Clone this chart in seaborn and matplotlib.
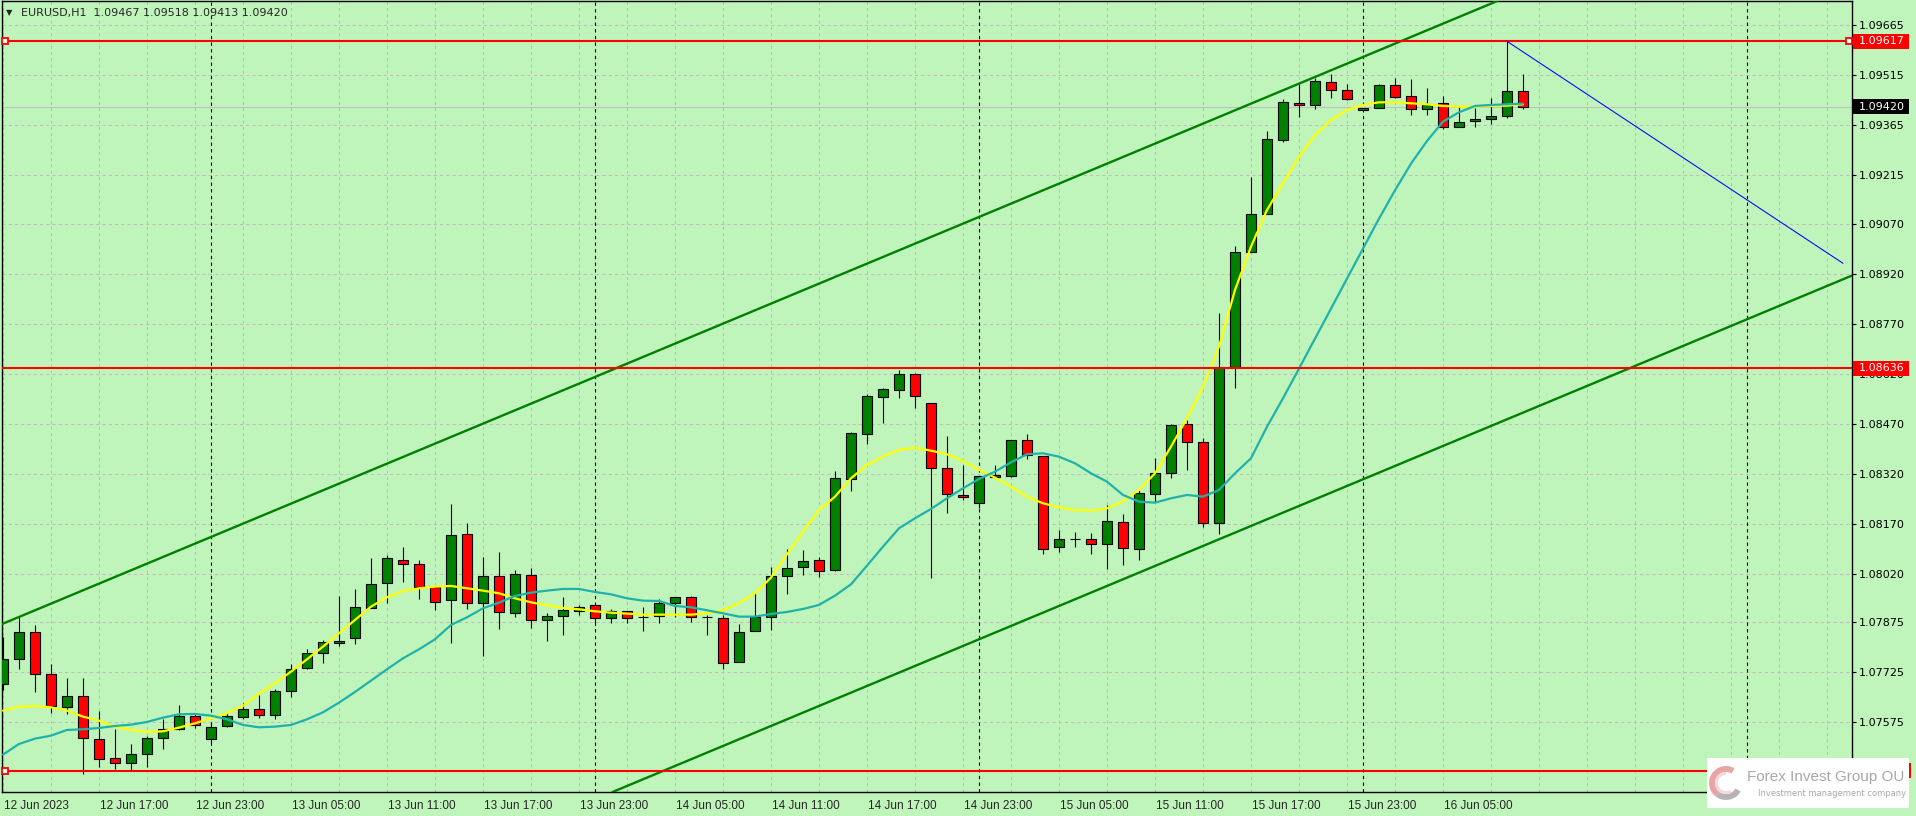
"""EURUSD H1 candlestick chart in MT4 style. Saves out.png."""
import matplotlib
matplotlib.use("Agg")
import matplotlib.pyplot as plt
import matplotlib.transforms as mtransforms
from matplotlib.patches import Rectangle, Wedge
import numpy as np
import pandas as pd
import seaborn as sns

# ---- data ----
TITLE = "EURUSD,H1  1.09467 1.09518 1.09413 1.09420"

OPEN = [1.07688, 1.07763, 1.07844, 1.07718, 1.07619, 1.07652, 1.07523, 1.07466, 1.07451, 1.07478,
        1.07526, 1.07553, 1.07592, 1.07523, 1.07562, 1.07589, 1.07613, 1.07595, 1.07667, 1.07736,
        1.07781, 1.07811, 1.07826, 1.07916, 1.07991, 1.08060, 1.08048, 1.07979, 1.07940, 1.08138,
        1.07931, 1.08012, 1.07901, 1.08015, 1.07880, 1.07892, 1.07907, 1.07925, 1.07886, 1.07907,
        1.07890, 1.07892, 1.07931, 1.07949, 1.07890, 1.07886, 1.07754, 1.07847, 1.07889, 1.08012,
        1.08039, 1.08060, 1.08030, 1.08303, 1.08438, 1.08549, 1.08570, 1.08618, 1.08531, 1.08336,
        1.08255, 1.08231, 1.08309, 1.08312, 1.08420, 1.08372, 1.08099, 1.08125, 1.08125, 1.08108,
        1.08174, 1.08095, 1.08258, 1.08321, 1.08468, 1.08414, 1.08171, 1.08639, 1.08984, 1.09098,
        1.09320, 1.09431, 1.09425, 1.09494, 1.09470, 1.09410, 1.09416, 1.09485, 1.09452, 1.09413,
        1.09431, 1.09359, 1.09377, 1.09383, 1.09392, 1.09467]
HIGH = [1.07829, 1.07891, 1.07866, 1.07749, 1.07706, 1.07706, 1.07608, 1.07554, 1.07509, 1.07534,
        1.07583, 1.07625, 1.07601, 1.07574, 1.07605, 1.07631, 1.07656, 1.07673, 1.07748, 1.07793,
        1.07821, 1.07953, 1.07973, 1.08066, 1.08075, 1.08099, 1.08060, 1.07979, 1.08228, 1.08171,
        1.08069, 1.08084, 1.08031, 1.08037, 1.07901, 1.07949, 1.07925, 1.07925, 1.07913, 1.07907,
        1.07919, 1.07943, 1.07949, 1.07952, 1.07895, 1.07895, 1.07868, 1.07961, 1.08039, 1.08094,
        1.08091, 1.08069, 1.08328, 1.08444, 1.08558, 1.08576, 1.08632, 1.08621, 1.08531, 1.08432,
        1.08345, 1.08312, 1.08345, 1.08420, 1.08438, 1.08372, 1.08151, 1.08146, 1.08141, 1.08226,
        1.08199, 1.08271, 1.08366, 1.08468, 1.08481, 1.08426, 1.08801, 1.09003, 1.09211, 1.09348,
        1.09444, 1.09488, 1.09506, 1.09518, 1.09488, 1.09416, 1.09488, 1.09506, 1.09503, 1.09476,
        1.09452, 1.09419, 1.09416, 1.09446, 1.09617, 1.09518]
LOW = [1.07671, 1.07734, 1.07666, 1.07603, 1.07598, 1.07420, 1.07441, 1.07435, 1.07432, 1.07441,
       1.07495, 1.07551, 1.07556, 1.07513, 1.07559, 1.07583, 1.07586, 1.07585, 1.07651, 1.07733,
       1.07751, 1.07804, 1.07808, 1.07916, 1.07931, 1.07996, 1.07943, 1.07910, 1.07811, 1.07913,
       1.07772, 1.07853, 1.07891, 1.07858, 1.07819, 1.07837, 1.07895, 1.07871, 1.07873, 1.07873,
       1.07849, 1.07873, 1.07889, 1.07876, 1.07837, 1.07733, 1.07754, 1.07847, 1.07851, 1.07958,
       1.08015, 1.08009, 1.08027, 1.08267, 1.08408, 1.08473, 1.08546, 1.08516, 1.08006, 1.08201,
       1.08240, 1.08216, 1.08309, 1.08309, 1.08363, 1.08080, 1.08085, 1.08099, 1.08080, 1.08035,
       1.08045, 1.08060, 1.08236, 1.08306, 1.08331, 1.08160, 1.08138, 1.08578, 1.08984, 1.09098,
       1.09314, 1.09389, 1.09413, 1.09446, 1.09440, 1.09410, 1.09416, 1.09446, 1.09395, 1.09395,
       1.09353, 1.09359, 1.09361, 1.09370, 1.09386, 1.09413]
CLOSE = [1.07763, 1.07844, 1.07718, 1.07622, 1.07652, 1.07526, 1.07463, 1.07451, 1.07478, 1.07526,
         1.07553, 1.07592, 1.07565, 1.07559, 1.07592, 1.07613, 1.07595, 1.07667, 1.07733, 1.07781,
         1.07814, 1.07817, 1.07919, 1.07988, 1.08066, 1.08048, 1.07979, 1.07934, 1.08135, 1.07931,
         1.08012, 1.07904, 1.08018, 1.07880, 1.07892, 1.07910, 1.07919, 1.07886, 1.07907, 1.07886,
         1.07890, 1.07931, 1.07949, 1.07889, 1.07890, 1.07751, 1.07844, 1.07889, 1.08012, 1.08036,
         1.08057, 1.08027, 1.08306, 1.08441, 1.08552, 1.08573, 1.08618, 1.08552, 1.08336, 1.08258,
         1.08249, 1.08312, 1.08315, 1.08420, 1.08376, 1.08095, 1.08125, 1.08125, 1.08108, 1.08177,
         1.08096, 1.08261, 1.08321, 1.08465, 1.08414, 1.08171, 1.08639, 1.08984, 1.09098, 1.09323,
         1.09434, 1.09425, 1.09497, 1.09470, 1.09443, 1.09416, 1.09485, 1.09449, 1.09413, 1.09428,
         1.09359, 1.09374, 1.09383, 1.09392, 1.09467, 1.09420]

# yellow (fast) and teal (slow) moving averages
MA_FAST = [1.07609, 1.07621, 1.07623, 1.07619, 1.07609, 1.07591, 1.07579, 1.07561, 1.07551, 1.07545,
           1.07547, 1.07558, 1.07571, 1.07586, 1.07601, 1.07623, 1.07660, 1.07691, 1.07726, 1.07763,
           1.07801, 1.07841, 1.07881, 1.07921, 1.07949, 1.07968, 1.07976, 1.07981, 1.07983, 1.07976,
           1.07969, 1.07961, 1.07946, 1.07934, 1.07925, 1.07917, 1.07913, 1.07907, 1.07903, 1.07900,
           1.07897, 1.07897, 1.07897, 1.07897, 1.07901, 1.07911, 1.07931, 1.07961, 1.08008, 1.08078,
           1.08146, 1.08211, 1.08251, 1.08306, 1.08346, 1.08371, 1.08391, 1.08398, 1.08389, 1.08378,
           1.08358, 1.08331, 1.08308, 1.08281, 1.08251, 1.08231, 1.08219, 1.08211, 1.08209, 1.08216,
           1.08236, 1.08271, 1.08321, 1.08401, 1.08486, 1.08581, 1.08701, 1.08871, 1.09001, 1.09111,
           1.09191, 1.09271, 1.09336, 1.09381, 1.09411, 1.09426, 1.09434, 1.09434, 1.09431, 1.09428,
           1.09423, 1.09421, 1.09421, 1.09423, 1.09424, 1.09428]
MA_SLOW = [1.07477, 1.07509, 1.07525, 1.07534, 1.07551, 1.07553, 1.07557, 1.07563, 1.07567, 1.07575,
           1.07588, 1.07598, 1.07599, 1.07594, 1.07583, 1.07566, 1.07559, 1.07561, 1.07566, 1.07583,
           1.07604, 1.07633, 1.07665, 1.07699, 1.07733, 1.07766, 1.07793, 1.07823, 1.07866, 1.07889,
           1.07916, 1.07933, 1.07953, 1.07963, 1.07969, 1.07974, 1.07974, 1.07965, 1.07958, 1.07946,
           1.07939, 1.07938, 1.07923, 1.07919, 1.07910, 1.07901, 1.07891, 1.07891, 1.07899, 1.07905,
           1.07914, 1.07926, 1.07954, 1.07988, 1.08044, 1.08101, 1.08156, 1.08186, 1.08214, 1.08246,
           1.08276, 1.08304, 1.08326, 1.08354, 1.08378, 1.08381, 1.08371, 1.08351, 1.08321, 1.08296,
           1.08256, 1.08236, 1.08233, 1.08246, 1.08256, 1.08251, 1.08271, 1.08321, 1.08366, 1.08461,
           1.08546, 1.08635, 1.08725, 1.08815, 1.08905, 1.08995, 1.09085, 1.09170, 1.09250, 1.09318,
           1.09376, 1.09404, 1.09423, 1.09426, 1.09428, 1.09430]

DATE_LABELS = ["12 Jun 2023", "12 Jun 17:00", "12 Jun 23:00", "13 Jun 05:00", "13 Jun 11:00",
               "13 Jun 17:00", "13 Jun 23:00", "14 Jun 05:00", "14 Jun 11:00", "14 Jun 17:00",
               "14 Jun 23:00", "15 Jun 05:00", "15 Jun 11:00", "15 Jun 17:00", "15 Jun 23:00",
               "16 Jun 05:00"]
DAY_STARTS = [13, 37, 61, 85, 109]          # bars at 00:00
PRICE_TICKS = [1.09665, 1.09515, 1.09365, 1.09215, 1.09070, 1.08920, 1.08770, 1.08620,
               1.08470, 1.08320, 1.08170, 1.08020, 1.07875, 1.07725, 1.07575]
LEVELS = [1.09617, 1.08636, 1.07428]        # red horizontal lines
BID = 1.09420
CHANNEL_UP = [(10, 1.08070), (80, 1.09470)]
CHANNEL_DN = [(80, 1.08203), (115, 1.08903)]
BLUE_LINE = [(94, 1.09617), (115, 1.08951)]

# ---- styling ----
W, H = 1916, 816
BG = "#bff5bb"
GRID = "#c2bcbc"
sns.set_style("white")
plt.rcParams["font.family"] = ["DejaVu Sans"]
NARROW = ["Liberation Sans", "DejaVu Sans"]

fig = plt.figure(figsize=(W / 100, H / 100), dpi=100, facecolor=BG)
ax = fig.add_axes([2 / W, 24 / H, 1850 / W, 791 / H], facecolor=BG)
ax.set_xlim(-0.0625, 115.5625)
ax.set_ylim(1.073649, 1.097379)

n = len(OPEN)
x = np.arange(n)
o, h, l, c = map(np.array, (OPEN, HIGH, LOW, CLOSE))

# grid + period separators
for p in PRICE_TICKS:
    ax.axhline(p, color=GRID, lw=0.75, ls=(0, (3, 3)), zorder=0.5)
for g in range(0, 116, 3):
    ax.axvline(g, color=GRID, lw=0.75, ls=(0, (3, 3)), zorder=0.5)
for d in DAY_STARTS:
    ax.axvline(d, color="black", lw=0.8, ls=(0, (3, 3)), zorder=0.6)
ax.axhline(BID, color="#c0c0c0", lw=0.8, zorder=0.7)

# candles
colors = np.where(c >= o, "#008000", "#ff0000")
ax.vlines(x, l, h, color="black", lw=0.8, zorder=2)
ax.bar(x, np.abs(c - o), bottom=np.minimum(o, c), width=0.62, color=colors,
       edgecolor="black", linewidth=0.8, zorder=3)

# moving averages
df = pd.DataFrame({"bar": x, "fast": MA_FAST, "slow": MA_SLOW})
sns.lineplot(data=df, x="bar", y="fast", color="#ffff00", lw=1.6, ax=ax, zorder=4)
sns.lineplot(data=df, x="bar", y="slow", color="#20b2aa", lw=1.6, ax=ax, zorder=4)

# objects
ax.axline(*CHANNEL_UP, color="#008000", lw=1.7, zorder=5)
ax.axline(*CHANNEL_DN, color="#008000", lw=1.7, zorder=5)
for lv in LEVELS:
    ax.axhline(lv, color="#ff0000", lw=1.5, zorder=5)
ax.plot(*zip(*BLUE_LINE), color="#0000ff", lw=0.75, zorder=5)
ax.plot([0.125, 0.125, 115.375], [LEVELS[0], LEVELS[2], LEVELS[0]], ls="none", marker="s",
        ms=4, mfc="white", mec="#ff0000", mew=1.3, zorder=6, clip_on=False)

# axes, ticks
ax.set_xlabel("")
ax.set_ylabel("")
for s in ax.spines.values():
    s.set_color("black")
    s.set_linewidth(1.0)
ax.yaxis.tick_right()
ax.set_yticks(PRICE_TICKS)
ax.set_yticklabels([f"{p:.5f}" for p in PRICE_TICKS])
ax.set_xticks(range(0, 6 * len(DATE_LABELS), 6))
ax.set_xticklabels([])
ax.tick_params(axis="both", direction="out", length=3, width=0.8, color="black")
ax.tick_params(axis="y", pad=2, labelsize=8, labelcolor="black")

xt = mtransforms.blended_transform_factory(ax.transData, fig.transFigure)
for i, lab in enumerate(DATE_LABELS):
    ax.text(6 * i + 0.05, 10 / H, lab, transform=xt, ha="left", va="center",
            fontsize=8.5, family=NARROW, clip_on=False)

# price labels on the right axis (the bottom one sits under the logo, only its edge shows)
yt = mtransforms.blended_transform_factory(fig.transFigure, ax.transData)
half = 7.5 / 33333
for lv, face, right, show in [(LEVELS[0], "#ff0000", 1909, True),
                              (LEVELS[1], "#ff0000", 1909, True),
                              (LEVELS[2], "#ff0000", 1911, False),
                              (BID, "black", 1909, True)]:
    ax.add_patch(Rectangle((1853 / W, lv - half), (right - 1853) / W, 2 * half,
                           transform=yt, facecolor=face, edgecolor="none",
                           clip_on=False, zorder=7))
    if show:
        ax.text(1859 / W, lv, f"{lv:.5f}", transform=yt, ha="left", va="center",
                fontsize=8, color="white", clip_on=False, zorder=8)

# title
fig.text(6 / W, 1 - 13 / H, "\u25bc", fontsize=6, va="center", ha="left")
fig.text(21 / W, 1 - 13 / H, TITLE, fontsize=8, va="center", ha="left")

# watermark logo box
lg = fig.add_axes([1707 / W, 8 / H, 202 / W, 50 / H], facecolor="white")
lg.set_xlim(0, 202)
lg.set_ylim(0, 50)
lg.set_axis_off()
lg.add_patch(Rectangle((0, 0), 202, 50, facecolor="white", edgecolor="none"))
lg.add_patch(Wedge((19, 25), 17, 60, 235, width=6, facecolor="#e6a6a6", edgecolor="none"))
lg.add_patch(Wedge((19, 25), 17, 235, 330, width=6, facecolor="#b4b4b4", edgecolor="none"))
lg.add_patch(Wedge((19, 25), 11, 90, 300, width=3, facecolor="#f2dada", edgecolor="none"))
lg.text(40, 31, "Forex Invest Group OU", fontsize=11, color="#a8a8a8",
        ha="left", va="center", family=NARROW)
lg.text(199, 15, "Investment management company", fontsize=6, color="#a8a8a8",
        ha="right", va="center")

fig.savefig("out.png", dpi=100, facecolor=BG)
